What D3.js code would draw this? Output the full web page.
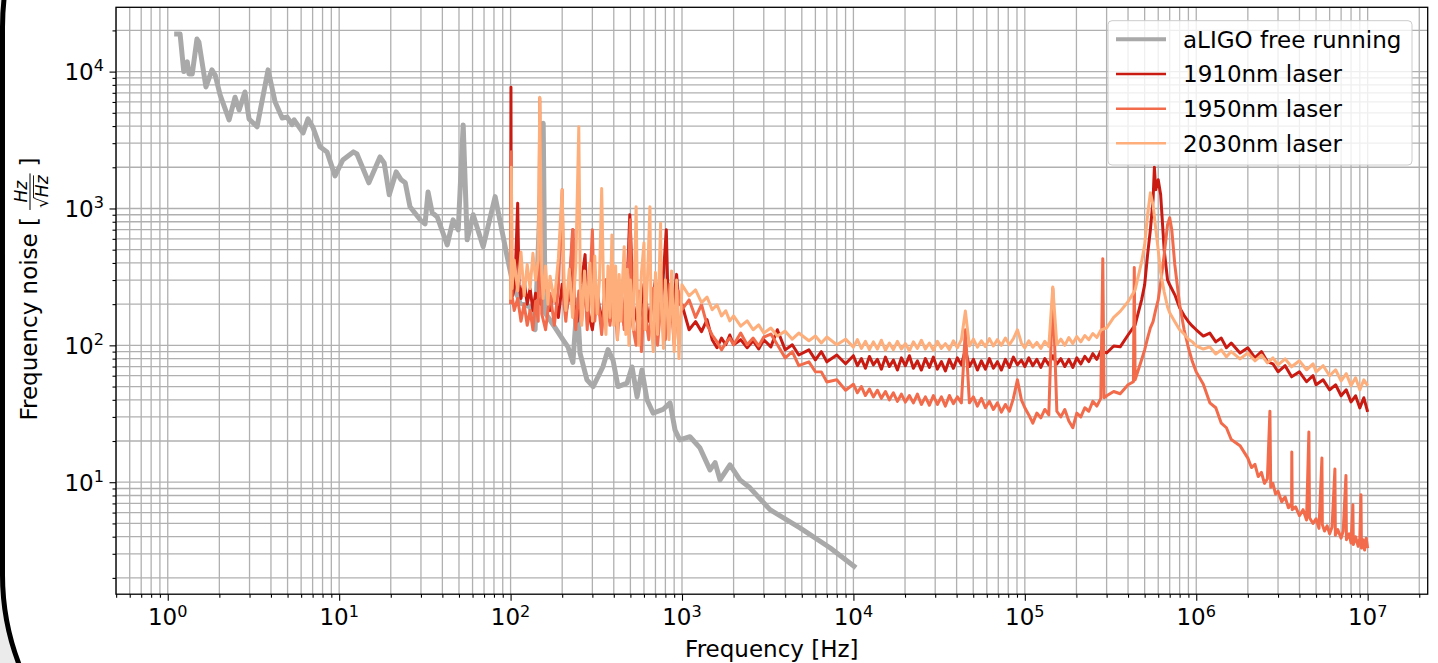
<!DOCTYPE html>
<html>
<head>
<meta charset="utf-8">
<script src="https://cdn.jsdelivr.net/npm/d3@7"></script>
<style>
  body { margin: 0; background: #ebebeb; }
  svg { display: block; }
  text { font-family: "DejaVu Sans", sans-serif; fill: #000; }
</style>
</head>
<body>
<svg id="chart" width="1438" height="663"></svg>
<script>
// ---- data (frequency [Hz], noise [Hz/sqrt(Hz)]) ----
var aligoData = [
  [1.09,18800],[1.18,18800],[1.24,10000],[1.30,11800],[1.33,9620],[1.39,9620],[1.48,17300],[1.52,16400],
  [1.67,7730],[1.81,10300],[1.89,9450],[2.02,6750],[2.28,4440],[2.47,6500],[2.61,5250],[2.82,7100],
  [2.98,4510],[3.32,3950],[3.85,10300],[4.23,6000],[4.65,4580],[4.97,4650],[5.31,4100],[5.46,4440],
  [6.16,3570],[6.58,4510],[7.04,3900],[7.73,2820],[8.49,2590],[9.46,1730],[10.5,2260],[12.1,2590],
  [12.7,2500],[14.9,1540],[17.3,2380],[18.3,2150],[19.6,1260],[21.5,1850],[23.0,1620],[24.3,1540],
  [25.9,1030],[29.7,826],[31.7,772],[33.0,1320],[34.9,930],[37.3,870],[42.7,542],[46.2,826],
  [49.5,698],[52.9,4080],[55.8,590],[60.5,900],[69.2,525],[81.3,1220],[95.5,445],[102,301],
  [113.5,204],[130,191],[139,130],[155,4200],[159,173],[181,136],[202,110],[216,97.5],[231,75],
  [245,215],[254,88],[279,56],[303,50],[346,70],[370,93],[396,78],[423,50],[478,53],[511,69.5],
  [547,42],[584,66],[625,40],[678,32],[775,34],[852,38],[911,24],[970,20.4],[1113,21.5],[1273,17.8],
  [1457,12.3],[1560,13.9],[1666,10.4],[1905,13.4],[2178,10.4],[2492,9.1],[3260,6.3],[4875,4.64],
  [7296,3.32],[10350,2.37]
];

var laser1910 = [
  [100,250],[100.5,7700],[101,300],[103,230],[106,280],[110,1090],[112,280],[115,220],[120,300],[125,200],
  [130,260],[135,180],[140,240],[150,200],[160,300],[170,180],[180,250],[190,160],[200,280],[210,170],
  [220,230],[231,700],[235,200],[245,150],[255,250],[272,460],[280,190],[300,130],[320,250],[340,140],
  [360,300],[380,150],[400,350],[420,170],[440,260],[460,140],[480,300],[496,900],[520,200],[560,130],
  [600,280],[640,150],[700,300],[750,160],[810,700],[830,200],[870,150],[930,330],[960,200],
  [1000,198],[1100,130],[1200,149],[1300,126],[1400,154],[1500,110],[1600,96],[1700,113],[1800,101],
  [1900,119],[2000,101],[2200,110],[2400,96],[2600,108],[2800,94],[3000,110],[3300,97.5],[3600,130],
  [4000,92.7],[4400,101],[4800,85],[5500,92.7],[6000,78.4],[6500,90],[7000,75.8],[8000,85],[9000,73.3],
  [1e4,84],[1.055e4,71],[1.113e4,80],[1.175e4,68],[1.24e4,83],[1.308e4,72],[1.38e4,79],[1.456e4,67],
  [1.537e4,82],[1.622e4,70],[1.711e4,78],[1.806e4,66],[1.905e4,81],[2.01e4,71],[2.121e4,84],[2.238e4,68],
  [2.362e4,77],[2.492e4,66],[2.63e4,80],[2.775e4,69],[2.928e4,82],[3.09e4,67],[3.26e4,76],[3.44e4,65],
  [3.63e4,79],[3.83e4,68],[4.042e4,81],[4.265e4,72],[4.5e4,93],[4.749e4,70],[5.011e4,79],[5.288e4,66],
  [5.58e4,77],[5.888e4,67],[6.213e4,80],[6.556e4,68],[6.918e4,76],[7.3e4,66],[7.703e4,79],[8.128e4,69],
  [8.577e4,82],[9.051e4,72],[9.551e4,78],[1e5,70],[1.055e5,81],[1.113e5,71],[1.175e5,79],[1.24e5,69],
  [1.308e5,80],[1.38e5,72],[1.456e5,84],[1.537e5,73],[1.622e5,80],[1.711e5,70],[1.806e5,79],[1.905e5,69],
  [2.01e5,81],[2.121e5,73],[2.238e5,83],[2.362e5,76],[2.492e5,87],[2.63e5,79],[2.775e5,91],
  [3e5,88],[3.3e5,99],[3.6e5,97.5],[4e5,119],
  [4.4e5,141],[4.8e5,215],[5e5,277],[5.2e5,458],[5.4e5,698],[5.6e5,1160],[5.7e5,2000],[5.8e5,1370],
  [6e5,1620],[6.2e5,1260],[6.5e5,498],[6.8e5,301],[7e5,277],[7.5e5,234],[8e5,188],[8.5e5,165],
  [9e5,149],[9.5e5,138],[1e6,130],[1.1e6,117],[1.2e6,123],[1.3e6,106],[1.4e6,113],[1.5e6,96],
  [1.6e6,104],[1.8e6,88],[2e6,96],[2.2e6,81],[2.4e6,90],[2.6e6,75.8],[2.8e6,73.3],[3e6,64.1],
  [3.3e6,71],[3.6e6,58.9],[4e6,64.1],[4.4e6,54.2],[4.8e6,60],[5e6,51.5],[5.5e6,56],[6e6,47.3],
  [6.5e6,51.5],[7e6,42.8],[7.5e6,47.3],[8e6,38.6],[8.5e6,42.8],[9e6,34.9],[9.5e6,41.4],[1e7,32.6]
];

var laser1950 = [
  [100,200],[101,2600],[102,230],[105,180],[110,220],[115,150],[120,200],[125,140],[130,180],[135,130],
  [140,210],[145,150],[148,6400],[152,170],[160,130],[170,240],[180,140],[190,260],[200,1370],[205,200],
  [210,150],[220,280],[230,700],[235,180],[240,130],[250,250],[260,150],[270,300],[280,130],[290,270],
  [300,700],[310,150],[320,250],[340,120],[360,300],[380,140],[400,260],[420,110],[440,280],[460,130],
  [480,250],[500,826],[510,150],[540,100],[560,250],[580,90],[600,200],[640,110],[680,260],[720,100],
  [760,230],[800,110],[850,280],[900,100],[950,250],
  [1000,182],[1100,215],[1200,160],[1300,198],[1400,141],[1500,119],[1600,106],[1700,92.7],[1800,104],
  [1900,113],[2000,101],[2200,123],[2400,101],[2600,113],[2800,99],[3000,115],[3300,121],[3600,101],
  [4000,81],[4400,90],[4800,71],[5500,75.8],[6000,64.1],[6500,64],[7000,54],[8000,56],[9000,47],
  [1e4,52],[1.055e4,45],[1.113e4,50],[1.175e4,43],[1.24e4,48],[1.308e4,42],[1.38e4,47],[1.456e4,41],
  [1.537e4,46],[1.622e4,40],[1.711e4,45],[1.806e4,39],[1.905e4,44],[2.01e4,38.5],[2.121e4,43],[2.238e4,38],
  [2.362e4,44],[2.492e4,37],[2.63e4,42],[2.775e4,36.5],[2.928e4,43],[3.09e4,37],[3.26e4,42],[3.44e4,36],
  [3.63e4,43],[3.83e4,37.5],[4.042e4,42],[4.265e4,38],[4.5e4,130],[4.749e4,38],[5.011e4,42],[5.288e4,36],
  [5.58e4,41],[5.888e4,35],[6.213e4,39],[6.556e4,34],[6.918e4,38],[7.3e4,32.5],[7.703e4,37],[8.128e4,33],
  [8.577e4,41],[9.051e4,56],[9.551e4,40],[1e5,35],[1.055e5,31],[1.113e5,27],[1.175e5,32],[1.24e5,29.5],
  [1.308e5,34],[1.38e5,31],[1.456e5,260],[1.537e5,33],[1.622e5,30],[1.711e5,34],[1.806e5,28],[1.905e5,25],
  [2.01e5,32],[2.121e5,30],[2.238e5,35],[2.362e5,33],[2.492e5,39],[2.63e5,36],[2.775e5,41],
  [2.85e5,430],[2.9e5,41.4],[3e5,42.8],[3.3e5,46],[3.6e5,44.3],[4e5,51.5],[4.3e5,54.2],
  [4.35e5,370],[4.4e5,56],[4.8e5,78.4],[5e5,92.7],[5.2e5,113],[5.4e5,134],[5.6e5,149],[5.8e5,182],
  [6e5,215],[6.2e5,287],[6.5e5,458],[6.8e5,760],[7e5,855],[7.2e5,698],[7.5e5,387],[8e5,198],
  [8.5e5,130],[9e5,96],[9.5e5,75.8],[1e6,64],[1.1e6,52],[1.2e6,38],[1.3e6,35],[1.4e6,27],[1.5e6,25],
  [1.6e6,20.5],[1.8e6,18.5],[2e6,15],[2.1e6,12.8],[2.2e6,13.5],[2.3e6,11],[2.4e6,11.8],[2.5e6,9.8],
  [2.6e6,10.6],[2.69e6,33],[2.72e6,9.2],[2.8e6,9.8],[2.9e6,8.2],[3e6,8.6],[3.15e6,7.2],[3.3e6,7.8],
  [3.45e6,6.5],[3.6e6,7.0],[3.61e6,16.6],[3.63e6,6.3],[3.8e6,6.6],[4e6,5.7],[4.2e6,6.3],[4.4e6,5.3],
  [4.54e6,23.3],[4.58e6,5.5],[4.8e6,5.0],[5e6,5.4],[5.2e6,4.6],[5.41e6,15],[5.44e6,4.9],[5.6e6,4.4],
  [5.8e6,4.8],[6e6,4.2],[6.2e6,4.7],[6.44e6,12.5],[6.48e6,4.1],[6.7e6,4.5],[7e6,3.9],[7.2e6,4.4],
  [7.47e6,11.2],[7.52e6,3.8],[7.8e6,4.2],[8e6,3.6],[8.2e6,6.85],[8.25e6,3.5],[8.5e6,4.0],[8.8e6,3.4],
  [9e6,3.9],[9.14e6,8.1],[9.2e6,3.3],[9.4e6,3.8],[9.6e6,3.2],[9.8e6,3.9],[1e7,3.3]
];

var laser2030 = [
  [100,215],[101,2000],[102,260],[105,420],[110,250],[115,480],[120,230],[125,390],[130,260],[135,470],
  [140,300],[145,420],[148,6500],[152,330],[155,220],[160,380],[165,200],[170,320],[180,210],[190,430],
  [200,1370],[205,300],[210,180],[220,360],[230,160],[240,380],[250,3950],[255,280],[260,140],[270,350],
  [280,180],[290,400],[300,150],[310,450],[320,170],[330,300],[340,1400],[350,200],[360,120],[370,380],
  [380,160],[390,640],[400,140],[410,380],[420,110],[430,330],[440,150],[450,300],[460,525],[470,120],
  [480,360],[490,100],[500,300],[520,130],[540,1030],[550,200],[560,100],[580,340],[600,560],[610,130],
  [630,330],[650,1030],[660,150],[680,90],[700,340],[720,120],[750,780],[760,180],[780,95],[800,300],
  [840,110],[870,350],[900,90],[930,300],[960,80],
  [1000,277],[1100,230],[1200,254],[1300,205],[1400,225],[1500,182],[1600,198],[1700,164],[1800,179],
  [1900,151],[2000,164],[2200,138],[2400,151],[2600,130],[2800,141],[3000,123],[3300,134],[3600,117],
  [4000,127],[4400,111],[4800,123],[5500,108],[6000,117],[6500,104],[7000,115],[8000,101],[9000,111],
  [1e4,97],[1.055e4,110],[1.113e4,95],[1.175e4,107],[1.24e4,93],[1.308e4,106],[1.38e4,94],[1.456e4,109],
  [1.537e4,92],[1.622e4,104],[1.711e4,93],[1.806e4,107],[1.905e4,94],[2.01e4,103],[2.121e4,91],[2.238e4,106],
  [2.362e4,95],[2.492e4,109],[2.63e4,94],[2.775e4,104],[2.928e4,92],[3.09e4,107],[3.26e4,95],[3.44e4,103],
  [3.63e4,93],[3.83e4,108],[4.042e4,96],[4.265e4,110],[4.5e4,178],[4.749e4,99],[5.011e4,111],[5.288e4,97],
  [5.58e4,108],[5.888e4,98],[6.213e4,112],[6.556e4,99],[6.918e4,110],[7.3e4,100],[7.703e4,113],[8.128e4,101],
  [8.577e4,112],[9.051e4,130],[9.551e4,104],[1e5,96],[1.055e5,108],[1.113e5,97],[1.175e5,105],[1.24e5,95],
  [1.308e5,107],[1.38e5,98],[1.456e5,267],[1.537e5,101],[1.622e5,111],[1.711e5,100],[1.806e5,114],[1.905e5,103],
  [2.01e5,116],[2.121e5,106],[2.238e5,118],[2.362e5,110],[2.492e5,122],[2.63e5,114],[2.775e5,129],
  [3e5,134],[3.3e5,160],[3.6e5,177],[4e5,208],[4.4e5,254],[4.8e5,407],[5e5,542],[5.2e5,900],
  [5.4e5,1300],[5.6e5,1060],[5.8e5,716],[6e5,498],[6.2e5,339],[6.5e5,246],[6.8e5,191],[7e5,173],
  [7.5e5,149],[8e5,130],[8.5e5,121],[9e5,111],[9.5e5,106],[1e6,99],[1.1e6,94],[1.2e6,97.5],
  [1.3e6,86.5],[1.4e6,92.7],[1.5e6,82.4],[1.6e6,90],[1.8e6,79.7],[2e6,88],[2.2e6,77.1],[2.4e6,85],
  [2.6e6,74.5],[2.8e6,81],[3e6,72.1],[3.3e6,79.7],[3.6e6,69.7],[4e6,77.1],[4.4e6,66.3],[4.8e6,73.3],
  [5e6,64.1],[5.5e6,71],[6e6,60],[6.5e6,66.3],[7e6,55.1],[7.5e6,62.1],[8e6,50.8],[8.5e6,58],
  [9e6,47.3],[9.5e6,56],[1e7,50.8]
];

var seriesNames = ["aLIGO free running", "1910nm laser", "1950nm laser", "2030nm laser"];
var seriesColors = ["#a9a9a9", "#c91b12", "#f26b4b", "#fdae7a"];
var seriesWidths = [5, 3, 3, 3];

var xDomain = [0.499, 2.24e7];
var yDomain = [1.52, 2.95e4];
var xTickExps = [0, 1, 2, 3, 4, 5, 6, 7];
var yTickExps = [1, 2, 3, 4];

// ---- layout ----
var plot = {left: 116, right: 1427.7, top: 7.3, bottom: 594.2};
var fontSize = 23;

var svg = d3.select("#chart");

// rounded frame round the figure
svg.append("rect")
  .attr("x", 2.5).attr("y", -223)
  .attr("width", 3000).attr("height", 1048)
  .attr("rx", 250).attr("ry", 250)
  .style("fill", "#ffffff")
  .style("stroke", "#000000")
  .style("stroke-width", 5);

var x = d3.scaleLog().domain(xDomain).range([plot.left, plot.right]);
var y = d3.scaleLog().domain(yDomain).range([plot.bottom, plot.top]);

function decadeTicks(domain, minor) {
  var out = [];
  for (var k = -1; k <= 8; k++) {
    for (var m = (minor ? 2 : 1); m <= (minor ? 9 : 1); m++) {
      var v = m * Math.pow(10, k);
      if (v >= domain[0] * 0.999 && v <= domain[1]) out.push(v);
    }
  }
  return out;
}
var xMajor = xTickExps.map(function(e) { return Math.pow(10, e); });
var yMajor = yTickExps.map(function(e) { return Math.pow(10, e); });
var xMinor = decadeTicks(xDomain, true);
var yMinor = decadeTicks(yDomain, true);

// ---- grid (major + minor, same style) ----
var grid = svg.append("g").attr("class", "grid");
grid.selectAll("line.gx").data(xMajor.concat(xMinor)).enter()
  .append("line")
  .attr("x1", function(d) { return x(d); }).attr("x2", function(d) { return x(d); })
  .attr("y1", plot.top).attr("y2", plot.bottom)
  .style("stroke", "#b0b0b0").style("stroke-width", 1.3);
grid.selectAll("line.gy").data(yMajor.concat(yMinor)).enter()
  .append("line")
  .attr("y1", function(d) { return y(d); }).attr("y2", function(d) { return y(d); })
  .attr("x1", plot.left).attr("x2", plot.right)
  .style("stroke", "#b0b0b0").style("stroke-width", 1.3);

// ---- curves ----
svg.append("clipPath").attr("id", "plotclip")
  .append("rect")
  .attr("x", plot.left).attr("y", plot.top)
  .attr("width", plot.right - plot.left).attr("height", plot.bottom - plot.top);

var line = d3.line()
  .x(function(d) { return x(d[0]); })
  .y(function(d) { return y(d[1]); });

var allSeries = [aligoData, laser1910, laser1950, laser2030];
var curves = svg.append("g").attr("clip-path", "url(#plotclip)");
allSeries.forEach(function(s, i) {
  curves.append("path")
    .datum(s)
    .attr("d", line)
    .style("fill", "none")
    .style("stroke", seriesColors[i])
    .style("stroke-width", seriesWidths[i])
    .style("stroke-linejoin", "round")
    .style("stroke-linecap", "butt");
});

// ---- spines ----
svg.append("rect")
  .attr("x", plot.left).attr("y", plot.top)
  .attr("width", plot.right - plot.left).attr("height", plot.bottom - plot.top)
  .style("fill", "none").style("stroke", "#000").style("stroke-width", 1.3);

// ---- axes (ticks) ----
function tickAxis(axisFn, scale, values, size, transform) {
  var g = svg.append("g").attr("transform", transform)
    .call(axisFn(scale).tickValues(values).tickSize(size).tickFormat(""));
  g.select(".domain").remove();
  g.selectAll(".tick line").style("stroke", "#000").style("stroke-width", 1.1);
  return g;
}
tickAxis(d3.axisBottom, x, xMajor, 6.5, "translate(0," + plot.bottom + ")");
tickAxis(d3.axisBottom, x, xMinor, 3.5, "translate(0," + plot.bottom + ")");
tickAxis(d3.axisLeft, y, yMajor, 6.5, "translate(" + plot.left + ",0)");
tickAxis(d3.axisLeft, y, yMinor, 3.5, "translate(" + plot.left + ",0)");

// tick labels 10^n
function powLabel(sel, exp) {
  sel.append("tspan").text("10");
  sel.append("tspan").attr("dy", -8.5).style("font-size", (fontSize * 0.7) + "px").text(exp);
}
xTickExps.forEach(function(e) {
  var t = svg.append("text")
    .attr("x", x(Math.pow(10, e)))
    .attr("y", 625)
    .style("font-size", fontSize + "px")
    .style("text-anchor", "middle");
  powLabel(t, e);
});
yTickExps.forEach(function(e) {
  var t = svg.append("text")
    .attr("x", 104)
    .attr("y", y(Math.pow(10, e)) + 8.3)
    .style("font-size", fontSize + "px")
    .style("text-anchor", "end");
  powLabel(t, e);
});

// ---- axis labels ----
svg.append("text")
  .attr("x", (plot.left + plot.right) / 2)
  .attr("y", 657)
  .style("font-size", fontSize + "px")
  .style("text-anchor", "middle")
  .text("Frequency [Hz]");

var yl = svg.append("g").attr("transform", "translate(36.5,289) rotate(-90)");
var part1 = yl.append("text").style("font-size", fontSize + "px").text("Frequency noise [");
var fs = 17;
var num = yl.append("text").style("font-size", fs + "px").style("font-style", "italic")
  .style("text-anchor", "middle").attr("y", -10).text("Hz");
var den = yl.append("text").style("font-size", fs + "px").style("text-anchor", "middle").attr("y", 11);
den.append("tspan").text("\u221A");
var denHz = den.append("tspan").style("font-style", "italic").text("Hz");
var part2 = yl.append("text").style("font-size", fontSize + "px").text("]");

var w1 = part1.node().getComputedTextLength();
var wd = den.node().getComputedTextLength();
var wn = num.node().getComputedTextLength();
var gap = 7;
var fw = Math.max(wd, wn) + 4;
var wb = part2.node().getComputedTextLength();
var total = w1 + gap + fw + gap + wb;
var u0 = -total / 2;
var fc = u0 + w1 + gap + fw / 2;
part1.attr("x", u0);
num.attr("x", fc);
den.attr("x", fc);
part2.attr("x", u0 + w1 + gap + fw + gap);
yl.append("line")
  .attr("x1", fc - fw / 2).attr("x2", fc + fw / 2)
  .attr("y1", -6.5).attr("y2", -6.5)
  .style("stroke", "#000").style("stroke-width", 1);
var hzW = denHz.node().getComputedTextLength();
yl.append("line")
  .attr("x1", fc + wd / 2 - hzW - 1).attr("x2", fc + wd / 2)
  .attr("y1", -3).attr("y2", -3)
  .style("stroke", "#000").style("stroke-width", 0.9);

// ---- legend ----
var legend = svg.append("g");
legend.append("rect")
  .attr("x", 1108).attr("y", 20.7)
  .attr("width", 304).attr("height", 144.3)
  .attr("rx", 4)
  .style("fill", "#ffffff").style("fill-opacity", 0.8)
  .style("stroke", "#cccccc").style("stroke-width", 1);
seriesNames.forEach(function(name, i) {
  var cy = 39.3 + i * 34.67;
  legend.append("line")
    .attr("x1", 1116).attr("x2", 1166)
    .attr("y1", cy).attr("y2", cy)
    .style("stroke", seriesColors[i])
    .style("stroke-width", i === 0 ? 4 : 2.5);
  legend.append("text")
    .attr("x", 1183).attr("y", cy + 8.4)
    .style("font-size", fontSize + "px")
    .text(name);
});
</script>
</body>
</html>
